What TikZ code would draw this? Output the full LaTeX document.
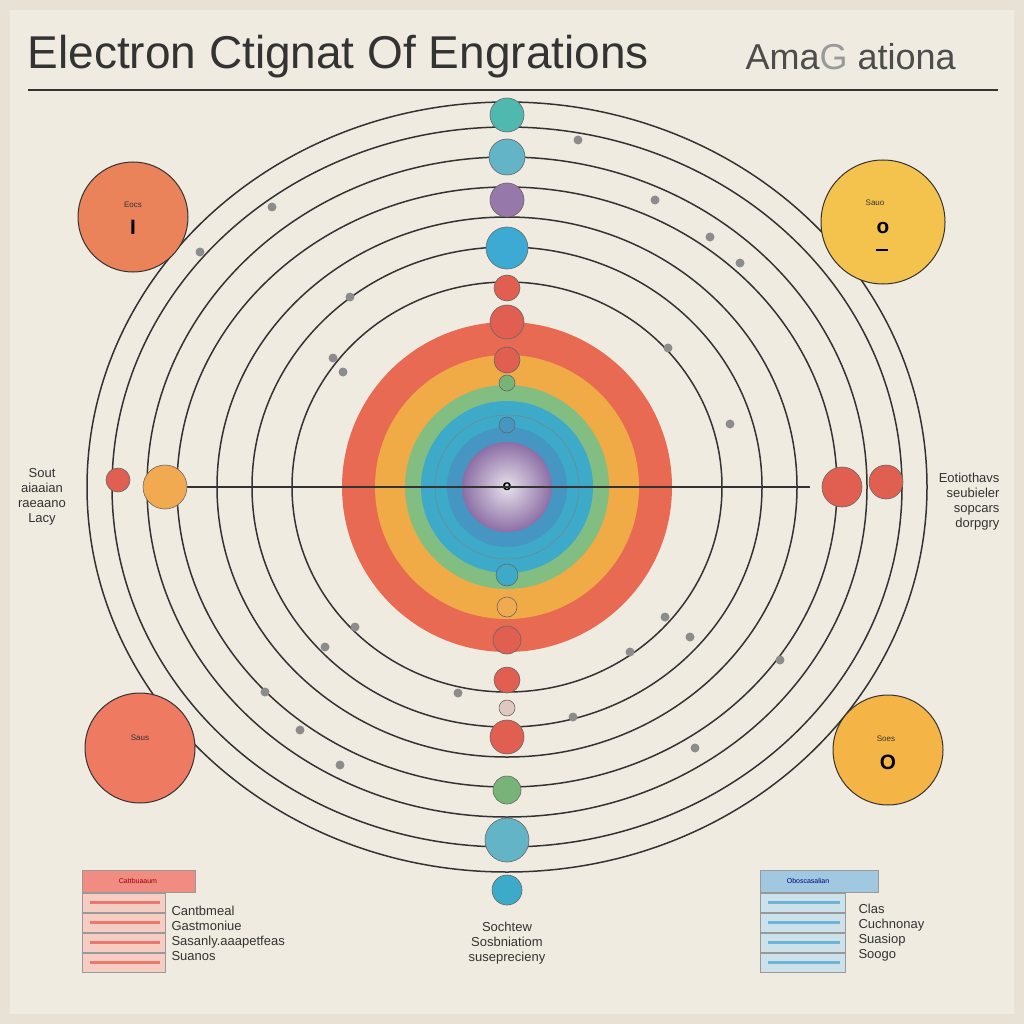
\documentclass[tikz,border=0pt]{standalone}
\usepackage{fontspec}
\setmainfont{Liberation Sans}
\definecolor{bg}{RGB}{232,226,214}
\definecolor{paper}{RGB}{240,235,224}
\definecolor{cRed}{RGB}{232,106,82}
\definecolor{cOr}{RGB}{240,170,70}
\definecolor{cGr}{RGB}{130,190,130}
\definecolor{cBl}{RGB}{60,170,200}
\definecolor{cBl2}{RGB}{70,150,195}
\definecolor{cPin}{RGB}{230,225,235}
\definecolor{cPout}{RGB}{140,110,165}
\definecolor{bTeal}{RGB}{80,185,175}
\definecolor{bSky}{RGB}{100,180,200}
\definecolor{bPur}{RGB}{150,120,170}
\definecolor{bBlu}{RGB}{60,170,210}
\definecolor{bRed}{RGB}{225,95,80}
\definecolor{bGrn}{RGB}{120,180,120}
\definecolor{bPale}{RGB}{225,200,190}
\definecolor{bOr}{RGB}{242,170,80}
\definecolor{tlC}{RGB}{234,130,90}
\definecolor{trC}{RGB}{244,195,78}
\definecolor{blC}{RGB}{238,122,98}
\definecolor{brC}{RGB}{245,181,70}
\definecolor{lgH}{RGB}{240,140,130}
\definecolor{lgR}{RGB}{245,205,195}
\definecolor{lgB}{RGB}{235,120,110}
\definecolor{rgH}{RGB}{160,200,225}
\definecolor{rgR}{RGB}{205,225,235}
\definecolor{rgB}{RGB}{110,180,215}
\begin{document}
\begin{tikzpicture}[x=1pt,y=-1pt,
 ring/.style={draw=black!80,line width=1.5pt},
 ball/.style={circle,draw=black!60,line width=0.6pt,inner sep=0pt},
 dot/.style={circle,fill=black!45,inner sep=0pt,minimum size=9pt},
 lbl/.style={font=\fontsize{13}{15}\selectfont,align=center,text=black!80},
 legrow/.style={draw=black!40,line width=0.5pt}]
\useasboundingbox (0,0) rectangle (1024,1024);
\fill[bg] (0,0) rectangle (1024,1024);
\fill[paper] (10,10) rectangle (1014,1014);
\node[anchor=west,font=\fontsize{46}{50}\selectfont,text=black!80] (title) at (24,57) {Electron Ctignat Of Engrations};
\node[anchor=west,font=\fontsize{36}{40}\selectfont,text=black!70] (title2) at (742,57) {Ama{\color{black!40}G} ationa};
\draw[line width=2pt,black!80] (28,90) -- (998,90);
\coordinate (c) at (507,487);
\foreach \rx/\ry in {215/205,255/240,290/270,330/300,360/330,395/360,420/385}
  \draw[ring] (c) ellipse [x radius=\rx, y radius=\ry];
\fill[cRed] (c) circle (165);
\fill[cOr] (c) circle (132);
\fill[cGr] (c) circle (102);
\fill[cBl] (c) circle (86);
\draw[black!50] (c) circle (72);
\fill[cBl2] (c) circle (60);
\shade[inner color=cPin,outer color=cPout] (c) circle (45);
\node[font=\Large\bfseries] (o) at (c) {o};
\draw[line width=1.2pt,black!80] (185,487) -- (810,487);
\foreach \y/\r/\col in {115/17/bTeal,157/18/bSky,200/17/bPur,248/21/bBlu,288/13/bRed,322/17/bRed,360/13/bRed,383/8/bGrn,425/8/cBl2,575/11/cBl,607/10/bOr,640/14/bRed,680/13/bRed,708/8/bPale,737/17/bRed,790/14/bGrn,840/22/bSky,890/15/cBl}
  \node[ball,minimum size=2*\r pt,fill=\col] at (507,\y) {};
\node[ball,minimum size=24pt,fill=bRed] (h1) at (118,480) {};
\node[ball,minimum size=44pt,fill=bOr] (h2) at (165,487) {};
\node[ball,minimum size=40pt,fill=bRed] (h3) at (842,487) {};
\node[ball,minimum size=34pt,fill=bRed] (h4) at (886,482) {};
\foreach \p in {(272,207),(200,252),(350,297),(343,372),(333,358),(578,140),(655,200),(710,237),(740,263),(668,348),(730,424),(355,627),(325,647),(265,692),(458,693),(573,717),(630,652),(665,617),(690,637),(780,660),(695,748),(300,730),(340,765)}
  \node[dot] at \p {};
\node[circle,draw=black!80,line width=1pt,minimum size=110pt,fill=tlC] (tl) at (133,217) {};
\node[lbl,font=\footnotesize] at (133,205) {Eocs};
\node[font=\huge\bfseries] at (133,227) {I};
\node[circle,draw=black!80,line width=1pt,minimum size=124pt,fill=trC] (tr) at (883,222) {};
\node[lbl,font=\footnotesize] at (875,203) {Sauo};
\node[font=\huge\bfseries] at (883,228) {o};
\draw[line width=1.5pt] (876,250) -- (888,250);
\node[circle,draw=black!80,line width=1pt,minimum size=110pt,fill=blC] (bl) at (140,748) {};
\node[lbl,font=\footnotesize] at (140,738) {Saus};
\node[circle,draw=black!80,line width=1pt,minimum size=110pt,fill=brC] (br) at (888,750) {};
\node[lbl,font=\footnotesize] at (886,739) {Soes};
\node[font=\huge\bfseries] at (888,762) {O};
\node[lbl,align=center] (lt) at (42,497) {Sout\\aiaaian\\raeaano\\Lacy};
\node[lbl,align=right,anchor=east] (rt) at (1003,502) {Eotiothavs\\seubieler\\sopcars\\dorpgry};
\fill[lgH] (82,870) rectangle (195,892);
\draw[legrow] (82,870) rectangle (195,892);
\node[font=\scriptsize,text=red!60!black] at (138,881) {Cattbuaaum};
\foreach \y in {893,913,933,953} {\draw[legrow,fill=lgR] (82,\y) rectangle (165,\y+19);
  \fill[lgB] (90,\y+8) rectangle (160,\y+11);}
\node[lbl,anchor=west,align=left] (ll) at (168,933) {Cantbmeal\\Gastmoniue\\Sasanly.aaapetfeas\\Suanos};
\fill[rgH] (760,870) rectangle (878,892);
\draw[legrow] (760,870) rectangle (878,892);
\node[font=\scriptsize,text=blue!50!black] at (808,881) {Oboscasalian};
\foreach \y in {893,913,933,953} {\draw[legrow,fill=rgR] (760,\y) rectangle (845,\y+19);
  \fill[rgB] (768,\y+8) rectangle (840,\y+11);}
\node[lbl,anchor=west,align=left] (rl) at (855,933) {Clas\\Cuchnonay\\Suasiop\\Soogo};
\node[lbl] (bc) at (507,943) {Sochtew\\Sosbniatiom\\suseprecieny};
\end{tikzpicture}
\end{document}
